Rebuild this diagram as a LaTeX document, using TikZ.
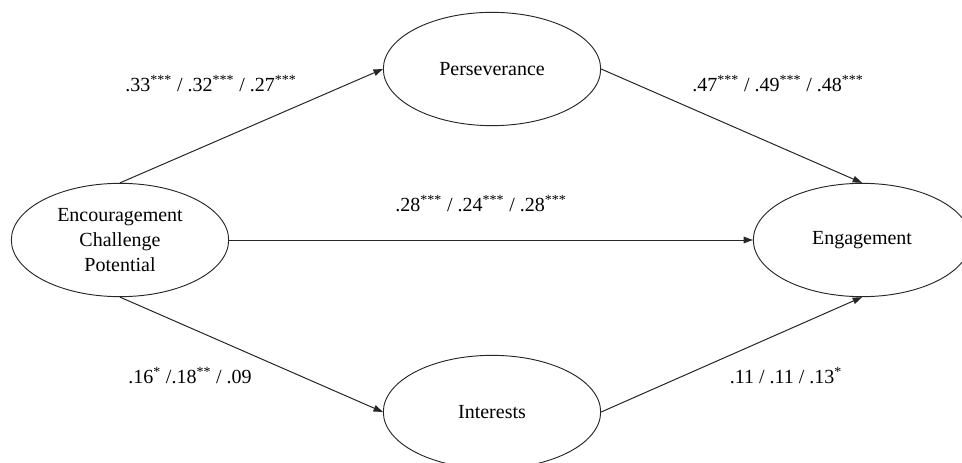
\documentclass[tikz,border=0pt]{standalone}
\usepackage{fontspec}
\setmainfont{Liberation Serif}
\usetikzlibrary{shapes.geometric,arrows.meta}
\begin{document}
\begin{tikzpicture}[x=0.75pt,y=-0.75pt,
  construct/.style={ellipse,draw=black!85,line width=0.7pt,minimum width=163pt,minimum height=85pt,inner sep=0pt,align=center,font=\fontsize{15}{18.75}\selectfont},
  coef/.style={font=\fontsize{15}{18}\selectfont,inner sep=0pt},
  path/.style={draw=black!85,line width=0.75pt,-{Triangle[length=7pt,width=5pt]}}]
\useasboundingbox (0,0) rectangle (962,463);
\node[construct] (enc) at (120,240) {Encouragement\\Challenge\\Potential};
\node[construct] (per) at (492,69) {Perseverance};
\node[construct] (int) at (492,412) {Interests};
\node[construct] (eng) at (862,240) {Engagement};
\draw[path] (enc.north) -- (per.west);
\draw[path] (per.east) -- (eng.north);
\draw[path] (enc.east) -- (eng.west);
\draw[path] (enc.south) -- (int.west);
\draw[path] (int.east) -- (eng.south);
\node[coef] (l1) at (211,84) {.33\textsuperscript{***} / .32\textsuperscript{***} / .27\textsuperscript{***}};
\node[coef] (l2) at (778,84) {.47\textsuperscript{***} / .49\textsuperscript{***} / .48\textsuperscript{***}};
\node[coef] (l3) at (481,204) {.28\textsuperscript{***} / .24\textsuperscript{***} / .28\textsuperscript{***}};
\node[coef] (l4) at (190,376) {.16\textsuperscript{*} /.18\textsuperscript{**} / .09};
\node[coef] (l5) at (786,376) {.11 / .11 / .13\textsuperscript{*}};
\end{tikzpicture}
\end{document}
